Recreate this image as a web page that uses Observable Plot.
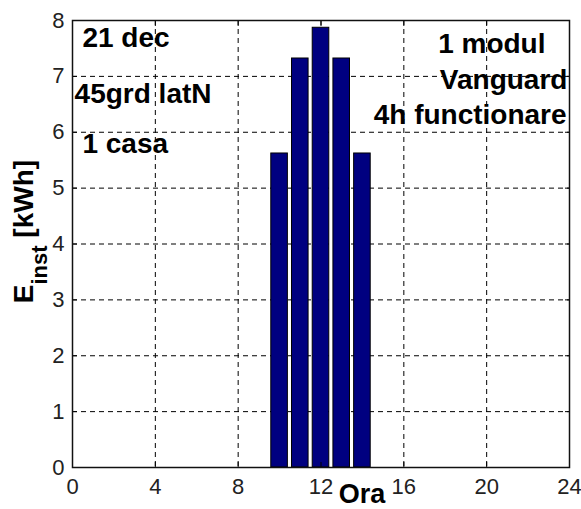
<!DOCTYPE html>
<html><head><meta charset="utf-8">
<script src="https://cdn.jsdelivr.net/npm/d3@7"></script>
<script src="https://cdn.jsdelivr.net/npm/@observablehq/plot@0.6"></script>
<style>
html,body{margin:0;padding:0;background:#fff;}
#chart svg{display:block;}
</style></head><body><div id="chart"></div>
<script>
// Data
const hours = [10, 11, 12, 13, 14];
const energy = [5.62, 7.32, 7.87, 7.32, 5.62];
const xTicks = [0, 4, 8, 12, 16, 20, 24];
const yTicks = [0, 1, 2, 3, 4, 5, 6, 7, 8];
const xLabel = "Ora";
const yLabelMain = "E";
const yLabelSub = "inst";
const yLabelUnit = " [kWh]";
const leftNotes = ["21 dec", "45grd latN", "1 casa"];
const leftNoteHour = [0.48, 0.1, 0.48];
const leftNoteValue = [7.52, 6.53, 5.62];
const rightNotes = ["1 modul", "Vanguard", "4h functionare"];
const rightNoteHour = [22.84, 23.9, 23.86];
const rightNoteValue = [7.41, 6.78, 6.14];

const bars = hours.map((h, i) => ({hour: h, value: energy[i]}));
const leftData = leftNotes.map((t, i) => ({t, x: leftNoteHour[i], y: leftNoteValue[i]}));
const rightData = rightNotes.map((t, i) => ({t, x: rightNoteHour[i], y: rightNoteValue[i]}));

const FONT = "'Liberation Sans', Arial, Helvetica, sans-serif";
const barWidth = 0.8;
const dash = {stroke: "black", strokeOpacity: 1, strokeWidth: 1, strokeDasharray: "5,4"};

const plot = Plot.plot({
  width: 581, height: 509,
  marginLeft: 72, marginRight: 12, marginTop: 20, marginBottom: 42,
  style: {fontFamily: FONT, background: "white", color: "black", overflow: "visible"},
  x: {domain: [0, 24], ticks: xTicks},
  y: {domain: [0, 8], ticks: yTicks},
  marks: [
    Plot.gridX(xTicks, dash),
    Plot.gridY(yTicks, dash),
    Plot.rectY(bars, {x1: d => d.hour - barWidth / 2, x2: d => d.hour + barWidth / 2, y1: 0, y2: "value",
      fill: "#000080", stroke: "black", strokeWidth: 1}),
    Plot.axisX(xTicks, {anchor: "bottom", tickSize: 0, tickPadding: 11, fontSize: 22, fill: "#222", label: null, tickFormat: "d"}),
    Plot.axisY(yTicks, {anchor: "left", tickSize: 0, tickPadding: 8, fontSize: 22, fill: "#222", label: null, tickFormat: "d"}),
    Plot.axisX(xTicks, {anchor: "bottom", tickSize: -5, fill: "none", label: null}),
    Plot.axisX(xTicks, {anchor: "top", tickSize: -5, fill: "none", label: null}),
    Plot.axisY(yTicks, {anchor: "left", tickSize: -5, fill: "none", label: null}),
    Plot.axisY(yTicks, {anchor: "right", tickSize: -5, fill: "none", label: null}),
    Plot.text(leftData, {x: "x", y: "y", text: "t", textAnchor: "start", lineAnchor: "bottom",
      fontSize: 28, fontWeight: "bold", fill: "black"}),
    Plot.text(rightData, {x: "x", y: "y", text: "t", textAnchor: "end", lineAnchor: "bottom",
      fontSize: 28, fontWeight: "bold", fill: "black"}),
    Plot.frame({stroke: "#111", strokeWidth: 1.5})
  ]
});

const svg = d3.select(plot);
const xs = plot.scale("x"), ys = plot.scale("y");
// x label
svg.append("text")
  .attr("x", xs.apply(14))
  .attr("y", 503)
  .attr("text-anchor", "middle")
  .attr("font-family", FONT).attr("font-weight", "bold").attr("font-size", 27)
  .attr("fill", "black")
  .text(xLabel);
// y label with subscript
const yl = svg.append("text")
  .attr("transform", `translate(33,${ys.apply(2.93)}) rotate(-90)`)
  .attr("text-anchor", "start")
  .attr("font-family", FONT).attr("font-weight", "bold").attr("font-size", 28)
  .attr("fill", "black");
yl.append("tspan").text(yLabelMain);
yl.append("tspan").attr("dy", 14).attr("font-size", 22).text(yLabelSub);
yl.append("tspan").attr("dy", -14).text(yLabelUnit);

document.getElementById("chart").appendChild(plot);
</script></body></html>
